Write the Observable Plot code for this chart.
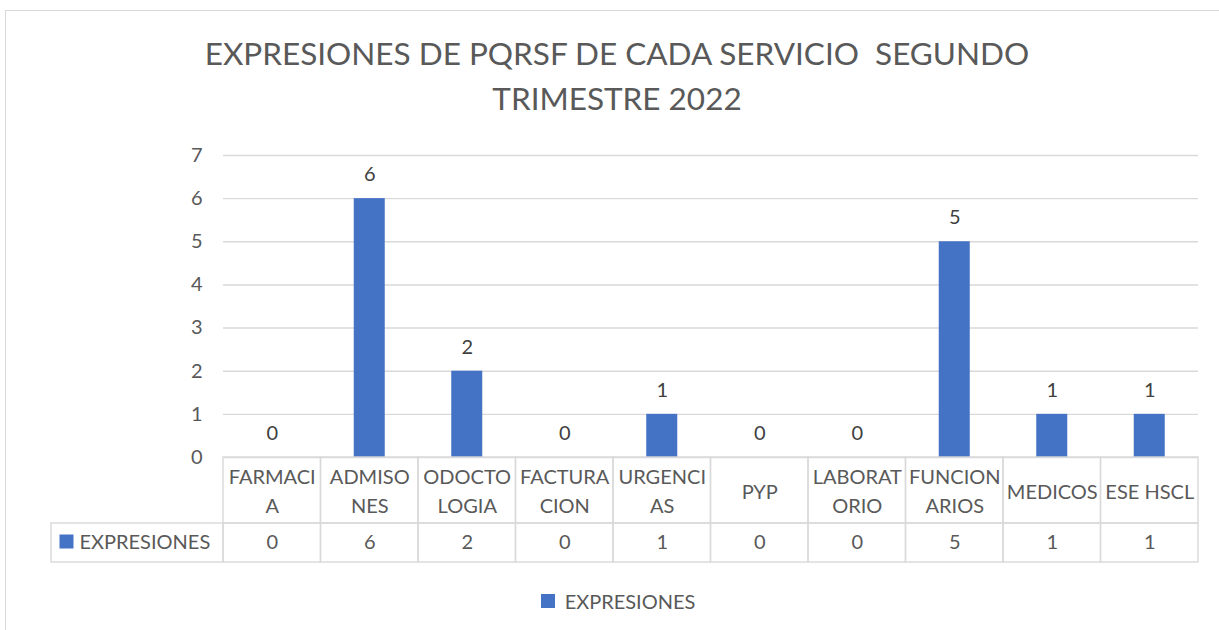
<!DOCTYPE html>
<html>
<head>
<meta charset="utf-8">
<script src="https://cdn.jsdelivr.net/npm/d3@7"></script>
<script src="https://cdn.jsdelivr.net/npm/@observablehq/plot@0.6"></script>
<style>
  body { margin:0; background:#fff; width:1219px; height:630px; overflow:hidden; position:relative; font-family: Lato, "Open Sans", sans-serif; }
  #frame { position:absolute; left:5px; top:10px; width:1300px; height:700px; border-left:1px solid #d9d9d9; border-top:1px solid #d9d9d9; }
  #title { position:absolute; left:0; top:31px; width:1234px; text-align:center; font-size:31.5px; line-height:45px; color:#595959; white-space:pre; }
  #chart { position:absolute; left:0; top:130px; }
  #legend { position:absolute; left:0; top:584px; width:1256px; display:flex; justify-content:center; }
</style>
</head>
<body>
<div id="frame"></div>
<div id="title">EXPRESIONES DE PQRSF DE CADA SERVICIO  SEGUNDO
TRIMESTRE 2022</div>
<div id="chart"></div>
<div id="legend"></div>
<script>
// ---- data ----
const categories = ["FARMACIA","ADMISONES","ODOCTOLOGIA","FACTURACION","URGENCIAS","PYP","LABORATORIO","FUNCIONARIOS","MEDICOS","ESE HSCL"];
const categoryLabels = ["FARMACI\nA","ADMISO\nNES","ODOCTO\nLOGIA","FACTURA\nCION","URGENCI\nAS","PYP","LABORAT\nORIO","FUNCION\nARIOS","MEDICOS","ESE HSCL"];
const values = [0,6,2,0,1,0,0,5,1,1];
const seriesName = "EXPRESIONES";
const yTicks = [0,1,2,3,4,5,6,7];

// ---- styling / layout ----
const barColor = "#4472C4";
const gridColor = "#d9d9d9";
const textColor = "#595959";
const labelColor = "#404040";
const fontFamily = "Lato, 'Open Sans', sans-serif";

const W = 1219, H = 445;
const mTop = 25, mBottom = 118, mLeft = 223, mRight = 21;
const yMax = 7;
const unit = (H - mTop - mBottom) / yMax;        // px per unit
const yv = px => -px / unit;                      // px below baseline -> y value
const step = (W - mLeft - mRight) / categories.length;
const headerH = 66, rowBottom = 105, leftColW = 172;

const data = categories.map((c, i) => ({category: c, label: categoryLabels[i], value: values[i]}));

const chart = Plot.plot({
  width: W, height: H,
  marginTop: mTop, marginBottom: mBottom, marginLeft: mLeft, marginRight: mRight,
  style: {fontSize: "20px", fontFamily, color: textColor, background: "transparent", overflow: "visible"},
  x: {type: "band", domain: categories, padding: 0, round: false, axis: null},
  y: {domain: [0, yMax], ticks: yTicks, tickFormat: d3.format("d"), tickSize: 0, tickPadding: 21, label: null, grid: false},
  marks: [
    Plot.ruleY(yTicks, {stroke: gridColor, strokeWidth: 1.4}),
    Plot.barY(data, {x: "category", y: "value", fill: barColor, insetLeft: (step - 31) / 2, insetRight: (step - 31) / 2}),
    Plot.text(data, {x: "category", y: "value", text: d => String(d.value), dy: -24, fill: labelColor}),
    // data table: header cells
    Plot.barY(data, {x: "category", y1: 0, y2: yv(headerH), fill: "none", stroke: gridColor, strokeWidth: 1.4}),
    // data table: value cells
    Plot.barY(data, {x: "category", y1: yv(headerH), y2: yv(rowBottom), fill: "none", stroke: gridColor, strokeWidth: 1.4}),
    // data table: series cell
    Plot.barY([seriesName], {x: () => categories[0], y1: yv(headerH), y2: yv(rowBottom), fill: "none", stroke: gridColor, strokeWidth: 1.4, insetLeft: -leftColW, insetRight: step}),
    Plot.text(data, {x: "category", y: 0, text: "label", dy: 32, lineHeight: 1.45, fill: textColor}),
    Plot.text(data, {x: "category", y: 0, text: d => String(d.value), dy: 85, fill: textColor}),
    Plot.dot([seriesName], {x: () => categories[0], y: 0, symbol: "square", r: 7.9, fill: barColor, dx: 66 - (mLeft + step / 2), dy: 84}),
    Plot.text([seriesName], {x: () => categories[0], y: 0, text: d => d, textAnchor: "start", dx: 79 - (mLeft + step / 2), dy: 85, fill: textColor})
  ]
});
document.getElementById("chart").appendChild(chart);

const legend = Plot.legend({
  color: {type: "ordinal", domain: [seriesName], range: [barColor]},
  swatchSize: 14,
  style: {fontSize: "20px", fontFamily, color: textColor, background: "transparent"}
});
document.getElementById("legend").appendChild(legend);
</script>
</body>
</html>
